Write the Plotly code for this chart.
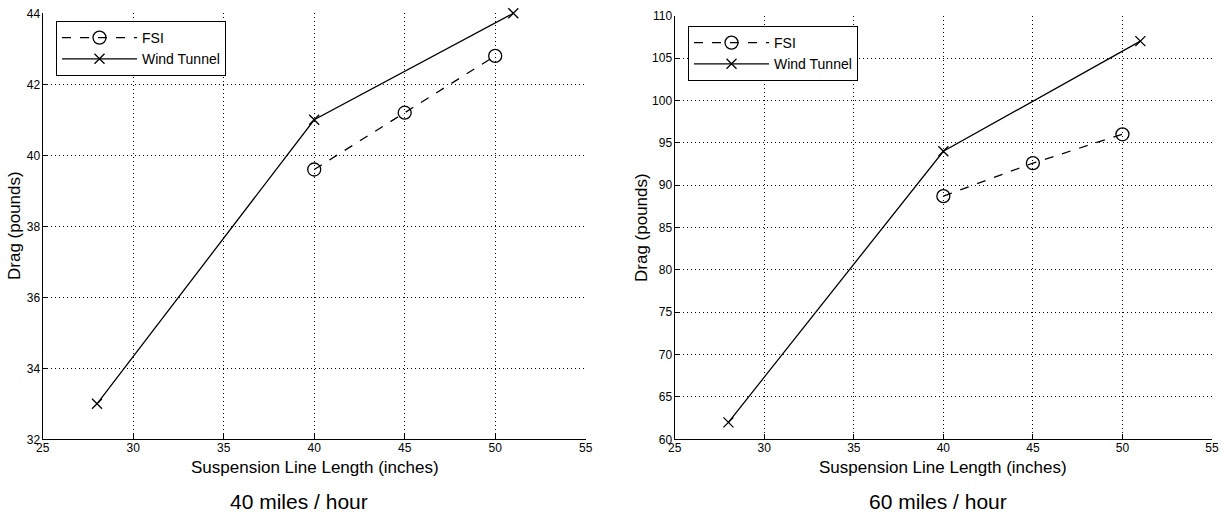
import plotly.graph_objects as go

# Data
fsi_x = [40, 45, 50]
fsi_40 = [39.6, 41.2, 42.8]
wt_x = [28, 40, 51]
wt_40 = [33, 41, 44]
fsi_60 = [88.7, 92.6, 96.0]
wt_60 = [62, 94, 107]

x_ticks = [25, 30, 35, 40, 45, 50, 55]
y_ticks_40 = [32, 34, 36, 38, 40, 42, 44]
y_ticks_60 = [60, 65, 70, 75, 80, 85, 90, 95, 100, 105, 110]

FONT = "Liberation Sans, Arial, Helvetica, sans-serif"
W, H = 1230, 519

fig = go.Figure()

def add_pair(fsi_y, wt_y, xa, ya, leg):
    fig.add_trace(go.Scatter(x=fsi_x, y=fsi_y, name="FSI", mode="lines+markers",
                             line=dict(color="black", width=1.3, dash="dash"),
                             marker=dict(symbol="circle-open", size=13, color="black", line=dict(width=1.3)),
                             xaxis=xa, yaxis=ya, legend=leg, cliponaxis=False))
    fig.add_trace(go.Scatter(x=wt_x, y=wt_y, name="Wind Tunnel", mode="lines+markers",
                             line=dict(color="black", width=1.3),
                             marker=dict(symbol="x-thin-open", size=10, color="black", line=dict(width=1.3, color="black")),
                             xaxis=xa, yaxis=ya, legend=leg, cliponaxis=False))

add_pair(fsi_40, wt_40, "x", "y", "legend")
add_pair(fsi_60, wt_60, "x2", "y2", "legend2")

axis_common = dict(showgrid=True, gridcolor="black", griddash="1px,3px", gridwidth=1,
                   zeroline=False, showline=True, linecolor="black", linewidth=1.3,
                   ticks="inside", ticklen=5, tickcolor="black", tickwidth=1,
                   automargin=False,
                   tickfont=dict(family=FONT, size=12, color="black"))

def ann(text, x, y, size, angle=0):
    return dict(text=text, x=x/W, y=1-y/H, xref="paper", yref="paper", xanchor="center",
                yanchor="middle", textangle=angle, showarrow=False, font=dict(size=size, family=FONT))

legend_common = dict(xanchor="left", yanchor="top", xref="paper", yref="paper",
                     bgcolor="white", bordercolor="black", borderwidth=1,
                     font=dict(family=FONT, size=14, color="black"), tracegroupgap=0, itemwidth=75)

fig.update_layout(
    width=W, height=H,
    margin=dict(l=0, r=0, t=0, b=0, autoexpand=False),
    paper_bgcolor="white", plot_bgcolor="white",
    font=dict(family=FONT, color="black"),
    xaxis=dict(domain=[42.7/W, 585.7/W], range=[25, 55], tickvals=x_ticks, anchor="y",
               ticklabelstandoff=-3, **axis_common),
    yaxis=dict(domain=[1-439.3/H, 1-13.3/H], range=[32, 44], tickvals=y_ticks_40, anchor="x",
               ticklabelstandoff=-1, **axis_common),
    xaxis2=dict(domain=[674.7/W, 1212/W], range=[25, 55], tickvals=x_ticks, anchor="y2",
                ticklabelstandoff=-3, **axis_common),
    yaxis2=dict(domain=[1-439.3/H, 1-15.7/H], range=[60, 110], tickvals=y_ticks_60, anchor="x2",
                ticklabelstandoff=-1, **axis_common),
    legend=dict(x=56/W, y=1-21/H, **legend_common),
    legend2=dict(x=688/W, y=1-26/H, **legend_common),
    annotations=[
        ann("Suspension Line Length (inches)", 315, 467, 17),
        ann("Suspension Line Length (inches)", 943, 467, 17),
        ann("40 miles / hour", 299, 501, 21),
        ann("60 miles / hour", 938, 501, 21),
        ann("Drag (pounds)", 15, 226, 17, -90),
        ann("Drag (pounds)", 641, 228, 17, -90),
    ],
)

fig.write_html("out.html", config={"displayModeBar": False},
               post_script="document.body.style.margin='0';document.body.style.overflow='hidden';")
